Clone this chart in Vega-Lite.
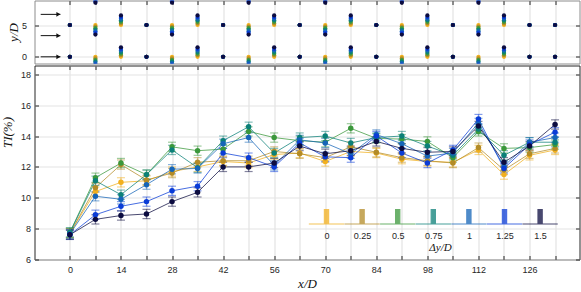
{
  "$schema": "https://vega.github.io/schema/vega-lite/v6.json",
  "padding": {"left": 0.5, "top": -0.5, "right": 0, "bottom": 0},
  "background": "white",
  "spacing": 0,
  "datasets": {
    "ti": [
      {"d": 0, "e": 0.3, "x": [0,7,14,21,28,35,42,49,56,63,70,77,84,91,98,105,112,119,126,133], "ti": [7.7,10.4,11.0,11.1,11.7,12.0,12.35,12.25,12.8,12.9,12.35,13.0,12.9,12.5,12.35,12.3,13.1,11.5,12.75,13.1]},
      {"d": 0.25, "e": 0.3, "x": [0,7,14,21,28,35,42,49,56,63,70,77,84,91,98,105,112,119,126,133], "ti": [7.7,10.65,12.15,11.15,11.6,12.3,12.4,12.4,13.0,12.85,12.6,13.3,12.95,12.6,12.4,12.25,13.25,11.8,12.85,13.2]},
      {"d": 0.5, "e": 0.3, "x": [0,7,14,21,28,35,42,49,56,63,70,77,84,91,98,105,112,119,126,133], "ti": [7.75,11.3,12.25,11.5,13.3,13.05,13.15,14.3,13.9,13.7,13.6,14.5,13.85,13.8,13.65,12.6,14.3,13.2,13.25,13.45]},
      {"d": 0.75, "e": 0.3, "x": [0,7,14,21,28,35,42,49,56,63,70,77,84,91,98,105,112,119,126,133], "ti": [7.75,11.1,10.2,11.5,13.1,11.95,13.7,14.6,12.9,13.9,14.0,13.55,13.9,14.0,13.35,12.75,14.45,12.75,13.6,13.6]},
      {"d": 1, "e": 0.3, "x": [0,7,14,21,28,35,42,49,56,63,70,77,84,91,98,105,112,119,126,133], "ti": [7.65,10.1,9.9,10.85,11.85,11.9,13.5,13.9,12.1,13.75,13.55,12.85,14.1,13.5,12.7,12.9,14.85,12.05,13.6,13.9]},
      {"d": 1.25, "e": 0.3, "x": [0,7,14,21,28,35,42,49,56,63,70,77,84,91,98,105,112,119,126,133], "ti": [7.6,8.9,9.45,9.75,10.45,10.75,12.9,12.6,12.0,13.55,12.65,12.6,14.0,12.9,12.25,13.1,15.1,11.9,13.45,14.25]},
      {"d": 1.5, "e": 0.3, "x": [0,7,14,21,28,35,42,49,56,63,70,77,84,91,98,105,112,119,126,133], "ti": [7.6,8.6,8.85,8.95,9.75,10.35,12.0,12.0,12.25,13.35,12.85,13.05,13.65,13.2,12.95,13.0,14.65,12.3,13.35,14.75]}
    ],
    "probe": [
      {"x": 0, "d": [0,0.25,0.5,0.75,1,1.25,1.5,0,0.25,0.5,0.75,1,1.25,1.5], "y": [0,0,0,0,0,0,0,5,5,5,5,5,5,5]},
      {"x": 7, "d": [0,0.25,0.5,0.75,1,1.25,1.5,0,0.25,0.5,0.75,1,1.25,1.5,0,0.25,0.5,0.75,1,1.25,1.5], "y": [0,-0.25,-0.5,-0.75,-1,-1.25,-1.5,5,4.75,4.5,4.25,4,3.75,3.5,10,9.75,9.5,9.25,9,8.75,8.5]},
      {"x": 14, "d": [0,0.25,0.5,0.75,1,1.25,1.5,0,0.25,0.5,0.75,1,1.25,1.5], "y": [0,0.25,0.5,0.75,1,1.25,1.5,5,5.25,5.5,5.75,6,6.25,6.5]},
      {"x": 21, "d": [0,0.25,0.5,0.75,1,1.25,1.5,0,0.25,0.5,0.75,1,1.25,1.5], "y": [0,0,0,0,0,0,0,5,5,5,5,5,5,5]},
      {"x": 28, "d": [0,0.25,0.5,0.75,1,1.25,1.5,0,0.25,0.5,0.75,1,1.25,1.5,0,0.25,0.5,0.75,1,1.25,1.5], "y": [0,-0.25,-0.5,-0.75,-1,-1.25,-1.5,5,4.75,4.5,4.25,4,3.75,3.5,10,9.75,9.5,9.25,9,8.75,8.5]},
      {"x": 35, "d": [0,0.25,0.5,0.75,1,1.25,1.5,0,0.25,0.5,0.75,1,1.25,1.5], "y": [0,0.25,0.5,0.75,1,1.25,1.5,5,5.25,5.5,5.75,6,6.25,6.5]},
      {"x": 42, "d": [0,0.25,0.5,0.75,1,1.25,1.5,0,0.25,0.5,0.75,1,1.25,1.5], "y": [0,0,0,0,0,0,0,5,5,5,5,5,5,5]},
      {"x": 49, "d": [0,0.25,0.5,0.75,1,1.25,1.5,0,0.25,0.5,0.75,1,1.25,1.5,0,0.25,0.5,0.75,1,1.25,1.5], "y": [0,-0.25,-0.5,-0.75,-1,-1.25,-1.5,5,4.75,4.5,4.25,4,3.75,3.5,10,9.75,9.5,9.25,9,8.75,8.5]},
      {"x": 56, "d": [0,0.25,0.5,0.75,1,1.25,1.5,0,0.25,0.5,0.75,1,1.25,1.5], "y": [0,0.25,0.5,0.75,1,1.25,1.5,5,5.25,5.5,5.75,6,6.25,6.5]},
      {"x": 63, "d": [0,0.25,0.5,0.75,1,1.25,1.5,0,0.25,0.5,0.75,1,1.25,1.5], "y": [0,0,0,0,0,0,0,5,5,5,5,5,5,5]},
      {"x": 70, "d": [0,0.25,0.5,0.75,1,1.25,1.5,0,0.25,0.5,0.75,1,1.25,1.5,0,0.25,0.5,0.75,1,1.25,1.5], "y": [0,-0.25,-0.5,-0.75,-1,-1.25,-1.5,5,4.75,4.5,4.25,4,3.75,3.5,10,9.75,9.5,9.25,9,8.75,8.5]},
      {"x": 77, "d": [0,0.25,0.5,0.75,1,1.25,1.5,0,0.25,0.5,0.75,1,1.25,1.5], "y": [0,0.25,0.5,0.75,1,1.25,1.5,5,5.25,5.5,5.75,6,6.25,6.5]},
      {"x": 84, "d": [0,0.25,0.5,0.75,1,1.25,1.5,0,0.25,0.5,0.75,1,1.25,1.5], "y": [0,0,0,0,0,0,0,5,5,5,5,5,5,5]},
      {"x": 91, "d": [0,0.25,0.5,0.75,1,1.25,1.5,0,0.25,0.5,0.75,1,1.25,1.5,0,0.25,0.5,0.75,1,1.25,1.5], "y": [0,-0.25,-0.5,-0.75,-1,-1.25,-1.5,5,4.75,4.5,4.25,4,3.75,3.5,10,9.75,9.5,9.25,9,8.75,8.5]},
      {"x": 98, "d": [0,0.25,0.5,0.75,1,1.25,1.5,0,0.25,0.5,0.75,1,1.25,1.5], "y": [0,0.25,0.5,0.75,1,1.25,1.5,5,5.25,5.5,5.75,6,6.25,6.5]},
      {"x": 105, "d": [0,0.25,0.5,0.75,1,1.25,1.5,0,0.25,0.5,0.75,1,1.25,1.5], "y": [0,0,0,0,0,0,0,5,5,5,5,5,5,5]},
      {"x": 112, "d": [0,0.25,0.5,0.75,1,1.25,1.5,0,0.25,0.5,0.75,1,1.25,1.5,0,0.25,0.5,0.75,1,1.25,1.5], "y": [0,-0.25,-0.5,-0.75,-1,-1.25,-1.5,5,4.75,4.5,4.25,4,3.75,3.5,10,9.75,9.5,9.25,9,8.75,8.5]},
      {"x": 119, "d": [0,0.25,0.5,0.75,1,1.25,1.5,0,0.25,0.5,0.75,1,1.25,1.5], "y": [0,0.25,0.5,0.75,1,1.25,1.5,5,5.25,5.5,5.75,6,6.25,6.5]},
      {"x": 126, "d": [0,0.25,0.5,0.75,1,1.25,1.5,0,0.25,0.5,0.75,1,1.25,1.5], "y": [0,0,0,0,0,0,0,5,5,5,5,5,5,5]},
      {"x": 133, "d": [0,0.25,0.5,0.75,1,1.25,1.5,0,0.25,0.5,0.75,1,1.25,1.5], "y": [0,0,0,0,0,0,0,5,5,5,5,5,5,5]}
    ],
    "arrows": [
      {"x0": -8, "x1": -2.6, "y": 0},
      {"x0": -8, "x1": -2.6, "y": 3.33},
      {"x0": -8, "x1": -2.6, "y": 6.67}
    ]
  },
  "resolve": {"legend": {"color": "independent"}},
  "config": {
    "view": {"stroke": "#262626", "strokeWidth": 1},
    "axis": {
      "labelFont": "Liberation Sans", "labelFontSize": 9, "labelColor": "#262626",
      "tickColor": "#262626", "tickSize": -4, "tickWidth": 1, "domain": false,
      "gridColor": "#e3e3e3", "gridWidth": 1.2,
      "titleFont": "Liberation Serif", "titleFontStyle": "italic", "titleFontWeight": "normal",
      "titleFontSize": 13, "titleColor": "#111111"
    }
  },
  "vconcat": [
    {
      "width": 545,
      "height": 63,
      "view": {"stroke": "#8c8c8c"},
      "layer": [
        {
          "data": {"name": "probe"},
          "transform": [{"flatten": ["d", "y"]}],
          "mark": {"type": "circle", "size": 18, "opacity": 1, "clip": true},
          "encoding": {
            "x": {"field": "x", "type": "quantitative",
                  "scale": {"domain": [-9.7, 139.7], "nice": false, "zero": false},
                  "axis": {"orient": "top", "values": [0,7,14,21,28,35,42,49,56,63,70,77,84,91,98,105,112,119,126,133], "labels": false, "title": null, "grid": true}},
            "y": {"field": "y", "type": "quantitative",
                  "scale": {"domain": [-1.05, 8.85], "nice": false, "zero": false},
                  "axis": {"values": [0, 5], "title": "y/D", "labelPadding": 12, "grid": true, "titleBaseline": "middle", "titleAlign": "center", "titleX": -21.5}},
            "color": {"field": "d", "type": "ordinal",
                      "scale": {"domain": [0,0.25,0.5,0.75,1,1.25,1.5], "range": ["#F2B01E","#B38B27","#3B983B","#0B8078","#1565B8","#0A3CD7","#0C0C40"]},
                      "legend": null}
          }
        },
        {
          "data": {"name": "arrows"},
          "mark": {"type": "rule", "color": "#111111", "strokeWidth": 1},
          "encoding": {
            "x": {"field": "x0", "type": "quantitative", "axis": null},
            "x2": {"field": "x1"},
            "y": {"field": "y", "type": "quantitative", "axis": {"orient": "right", "values": [0, 5], "labels": false, "title": null, "grid": false}}
          }
        },
        {
          "data": {"name": "arrows"},
          "mark": {"type": "point", "shape": "triangle-right", "filled": true, "size": 22, "color": "#111111", "opacity": 1, "xOffset": -2},
          "encoding": {
            "x": {"field": "x1", "type": "quantitative", "axis": null},
            "y": {"field": "y", "type": "quantitative", "axis": null}
          }
        }
      ],
      "resolve": {"axis": {"x": "independent", "y": "independent"}}
    },
    {
      "width": 545,
      "height": 194,
      "data": {"name": "ti"},
      "transform": [{"flatten": ["x", "ti"]}],
      "layer": [
        {
          "mark": {"type": "line", "strokeWidth": 1, "opacity": 0.75},
          "encoding": {
            "x": {"field": "x", "type": "quantitative",
                  "scale": {"domain": [-9.7, 139.7], "nice": false, "zero": false},
                  "axis": {"orient": "bottom", "values": [0,7,14,21,28,35,42,49,56,63,70,77,84,91,98,105,112,119,126,133],
                           "labelExpr": "datum.value % 14 == 0 ? datum.label : ''", "title": "x/D", "grid": true, "labelPadding": 10, "titlePadding": 3}},
            "y": {"field": "ti", "type": "quantitative",
                  "scale": {"domain": [6, 18.57], "nice": false, "zero": false},
                  "axis": {"values": [6,8,10,12,14,16,18], "title": "TI(%)", "grid": true, "labelPadding": 8, "titleBaseline": "middle", "titleAlign": "center", "titleX": -27, "titleY": 66.5}},
            "color": {"field": "d", "type": "ordinal",
                      "scale": {"domain": [0,0.25,0.5,0.75,1,1.25,1.5], "range": ["#F2B01E","#B38B27","#3B983B","#0B8078","#1565B8","#0A3CD7","#0C0C40"]},
                      "legend": {
                        "orient": "none", "legendX": 286, "legendY": 160, "direction": "horizontal",
                        "title": "Δy/D", "titleOrient": "bottom", "titleAnchor": "middle",
                        "titleFont": "Liberation Serif", "titleFontStyle": "italic", "titleFontWeight": "normal", "titleFontSize": 11, "titleColor": "#111111", "titlePadding": 1,
                        "symbolType": "M-0.42,-4.4H0.42V-1.5H-0.42Z M-3.53,-1.5H3.53", "symbolSize": 100, "symbolStrokeWidth": 1.2,
                        "labelFont": "Liberation Sans", "labelFontSize": 9, "labelColor": "#262626", "labelAlign": "center", "labelBaseline": "top", "labelOffset": -5.5,
                        "columnPadding": -6.4, "padding": 0,
                        "encode": {"symbols": {"stroke": {"value": "#7f7f7f"}, "opacity": {"value": 1}}}
                      }}
          }
        },
        {
          "mark": {"type": "errorbar", "ticks": true, "size": 8, "thickness": 1.2, "opacity": 0.5},
          "encoding": {
            "x": {"field": "x", "type": "quantitative", "axis": null},
            "y": {"field": "ti", "type": "quantitative", "axis": null},
            "yError": {"field": "e"},
            "color": {"field": "d", "type": "ordinal"}
          }
        },
        {
          "mark": {"type": "circle", "size": 30, "opacity": 1},
          "encoding": {
            "x": {"field": "x", "type": "quantitative",
                  "axis": {"orient": "top", "values": [0,7,14,21,28,35,42,49,56,63,70,77,84,91,98,105,112,119,126,133], "labels": false, "title": null, "grid": false}},
            "y": {"field": "ti", "type": "quantitative",
                  "axis": {"orient": "right", "values": [6,8,10,12,14,16,18], "labels": false, "title": null, "grid": false}},
            "color": {"field": "d", "type": "ordinal",
                      "legend": {
                        "orient": "none", "legendX": 286, "legendY": 160, "direction": "horizontal",
                        "title": "Δy/D", "titleOrient": "bottom", "titleAnchor": "middle",
                        "titleFont": "Liberation Serif", "titleFontStyle": "italic", "titleFontWeight": "normal", "titleFontSize": 11, "titleColor": "#111111", "titlePadding": 1,
                        "symbolType": "M-0.42,-4.4H0.42V-1.5H-0.42Z M-3.53,-1.5H3.53", "symbolSize": 100, "symbolStrokeWidth": 1.2,
                        "labelFont": "Liberation Sans", "labelFontSize": 9, "labelColor": "#262626", "labelAlign": "center", "labelBaseline": "top", "labelOffset": -5.5,
                        "columnPadding": -6.4, "padding": 0,
                        "encode": {"symbols": {"stroke": {"value": "#7f7f7f"}, "opacity": {"value": 1}}}
                      }}
          }
        }
      ],
      "resolve": {"axis": {"x": "independent", "y": "independent"}}
    }
  ]
}
